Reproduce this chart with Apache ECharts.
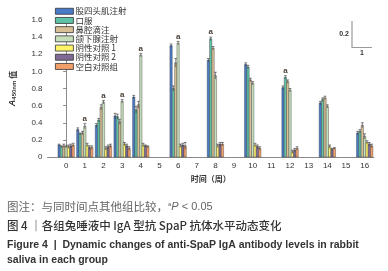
<!DOCTYPE html>
<html>
<head>
<meta charset="utf-8">
<script src="https://cdn.jsdelivr.net/npm/echarts@6/dist/echarts.min.js"></script>
<style>
  html, body { margin: 0; padding: 0; background: #fff; }
  #chart { width: 388px; height: 271px; }
</style>
</head>
<body>
<div id="chart"></div>
<script>
// 时间点（周）
var weeks = [0, 1, 2, 3, 4, 6, 8, 10, 12, 14, 16];
var groupNames = ['股四头肌注射', '口服', '鼻腔滴注', '颌下腺注射', '阴性对照 1', '阴性对照 2', '空白对照组'];
var groupColors = ['#4a7bc8', '#5fc2a6', '#d8bf96', '#c6dfba', '#fff36a', '#7e6a94', '#f2a06a'];

// A450nm 均值
var quadriceps = [0.14, 0.32, 0.37, 0.48, 0.70, 1.30, 1.13, 1.08, 0.81, 0.63, 0.28];
var oral       = [0.12, 0.27, 0.43, 0.47, 0.55, 0.80, 1.38, 1.05, 0.93, 0.67, 0.30];
var nasal      = [0.13, 0.28, 0.58, 0.41, 0.61, 1.10, 1.27, 0.90, 0.88, 0.69, 0.37];
var submand    = [0.12, 0.36, 0.64, 0.65, 1.19, 1.33, 0.95, 0.86, 0.78, 0.59, 0.24];
var neg1       = [0.12, 0.14, 0.10, 0.15, 0.14, 0.13, 0.13, 0.14, 0.06, 0.12, 0.17];
var neg2       = [0.13, 0.11, 0.12, 0.13, 0.13, 0.14, 0.15, 0.12, 0.08, 0.09, 0.15];
var blank      = [0.14, 0.11, 0.13, 0.10, 0.12, 0.13, 0.15, 0.10, 0.10, 0.10, 0.13];

// 误差（SD）
var quadricepsErr = [0.01, 0.02, 0.02, 0.03, 0.02, 0.02, 0.02, 0.02, 0.02, 0.02, 0.02];
var oralErr       = [0.01, 0.01, 0.02, 0.03, 0.04, 0.03, 0.02, 0.02, 0.02, 0.02, 0.02];
var nasalErr      = [0.02, 0.02, 0.03, 0.03, 0.04, 0.05, 0.02, 0.02, 0.02, 0.02, 0.03];
var submandErr    = [0.01, 0.03, 0.02, 0.02, 0.02, 0.02, 0.04, 0.02, 0.02, 0.02, 0.03];
var neg1Err       = [0.02, 0.02, 0.02, 0.02, 0.02, 0.02, 0.02, 0.02, 0.02, 0.02, 0.02];
var neg2Err       = [0.02, 0.02, 0.02, 0.02, 0.01, 0.02, 0.02, 0.02, 0.02, 0.01, 0.02];
var blankErr      = [0.02, 0.02, 0.02, 0.02, 0.01, 0.04, 0.02, 0.02, 0.02, 0.01, 0.02];

// 显著性标记 a：组序号 -> 周
var submandSig = [1, 2, 3, 4, 6];
var oralSig = [8, 12];

var yTicks = [0, 0.2, 0.4, 0.6, 0.8, 1.0, 1.2, 1.4, 1.6];

var values = [quadriceps, oral, nasal, submand, neg1, neg2, blank];
var errors = [quadricepsErr, oralErr, nasalErr, submandErr, neg1Err, neg2Err, blankErr];
var sigs = [[], oralSig, [], submandSig, [], [], []];

var myChart = echarts.init(document.getElementById('chart'));

function makeRender(k) {
  return function (params, api) {
    var x = api.value(0), y = api.value(1), e = api.value(2), sig = api.value(3);
    var unit = api.size([1, 0])[0];
    var bw = unit * 0.88 / 7;
    var base = api.coord([x, 0]);
    var top = api.coord([x, y]);
    var hi = api.coord([x, y + e]);
    var lo = api.coord([x, y - e]);
    var left = base[0] - bw * 3.5 + k * bw;
    var cx = left + bw / 2;
    var kids = [
      { type: 'rect', shape: { x: left, y: top[1], width: bw, height: base[1] - top[1] },
        style: { fill: groupColors[k], stroke: '#3a3a3a', lineWidth: 0.4 } },
      { type: 'line', shape: { x1: cx, y1: hi[1], x2: cx, y2: lo[1] },
        style: { stroke: '#333', lineWidth: 0.6 } },
      { type: 'line', shape: { x1: cx - 1.4, y1: hi[1], x2: cx + 1.4, y2: hi[1] },
        style: { stroke: '#333', lineWidth: 0.6 } }
    ];
    if (sig) {
      kids.push({ type: 'text', x: cx, y: hi[1] - 1,
        style: { text: 'a', fill: '#4a4038', font: 'bold 8px "Liberation Sans"',
          align: 'center', verticalAlign: 'bottom' } });
    }
    return { type: 'group', children: kids };
  };
}

var series = [];
for (var k = 0; k < 7; k++) {
  var data = [];
  for (var i = 0; i < weeks.length; i++) {
    data.push([weeks[i], values[k][i], errors[k][i], sigs[k].indexOf(weeks[i]) >= 0 ? 1 : 0]);
  }
  series.push({
    name: groupNames[k],
    type: 'custom',
    renderItem: makeRender(k),
    itemStyle: { color: groupColors[k] },
    encode: { x: 0, y: 1 },
    data: data
  });
}

var option = {
  animation: false,
  backgroundColor: '#fff',
  legend: {
    left: 50, top: 2,
    orient: 'vertical',
    icon: 'rect',
    itemWidth: 18, itemHeight: 6, itemGap: 0.7,
    itemStyle: { borderColor: '#333', borderWidth: 0.8 },
    textStyle: { fontSize: 8.5, lineHeight: 8, color: '#333', fontFamily: 'Noto Sans CJK SC', padding: [0, 0, 0, -3] },
    data: groupNames
  },
  grid: { left: 46, right: 14, top: 20, bottom: 114 },
  xAxis: {
    type: 'value', min: -1, max: 16.5, interval: 1,
    name: '时间（周）', nameLocation: 'middle', nameGap: 17,
    nameTextStyle: { fontSize: 8, fontWeight: 'bold', color: '#333', fontFamily: 'Noto Sans CJK SC' },
    axisLine: { lineStyle: { color: '#8a8a8a', width: 1 } },
    axisTick: { show: false },
    splitLine: { show: false },
    axisLabel: {
      fontSize: 8, color: '#333', margin: 5, fontFamily: 'Liberation Sans',
      formatter: function (v) { return v < 0 ? '' : String(v); }
    }
  },
  yAxis: {
    type: 'value', min: 0, max: 1.6, interval: 0.2,
    name: '{i|A}{s|450nm}{n| 值}', nameLocation: 'middle', nameGap: 30,
    nameTextStyle: {
      rich: {
        i: { fontSize: 9, fontWeight: 'bold', fontStyle: 'italic', color: '#333', fontFamily: 'Liberation Sans' },
        s: { fontSize: 6, fontWeight: 'bold', color: '#333', fontFamily: 'Liberation Sans', verticalAlign: 'bottom', padding: [4, 0, 0, 0] },
        n: { fontSize: 8, fontWeight: 'bold', color: '#333', fontFamily: 'Noto Sans CJK SC' }
      }
    },
    axisLine: { show: true, lineStyle: { color: '#8a8a8a', width: 1 } },
    axisTick: { show: true, length: 3, lineStyle: { color: '#8a8a8a' } },
    splitLine: { show: false },
    axisLabel: {
      fontSize: 8, color: '#333', margin: 5, fontFamily: 'Liberation Sans',
      formatter: function (v) { return v === 0 ? '0' : v.toFixed(1); }
    }
  },
  graphic: [
    // 比例尺
    { type: 'polyline', shape: { points: [[352, 21], [352, 47.5], [372, 47.5]] },
      style: { stroke: '#9a9a9a', lineWidth: 1.2, fill: null } },
    { type: 'text', x: 344, y: 34, style: { text: '0.2', font: 'bold 7px "Liberation Sans"', fill: '#333', align: 'center', verticalAlign: 'middle' } },
    { type: 'text', x: 362, y: 53, style: { text: '1', font: 'bold 7px "Liberation Sans"', fill: '#333', align: 'center', verticalAlign: 'middle' } },
    // 图注
    { type: 'text', x: 7, y: 207,
      style: { verticalAlign: 'middle', rich: {
        c: { fontSize: 11.5, fill: '#666', fontFamily: 'Noto Sans CJK SC' },
        sup: { fontSize: 6, fill: '#666', fontFamily: 'Liberation Sans', verticalAlign: 'top', padding: [0, 0, 6, 0] },
        p: { fontSize: 11, fill: '#666', fontStyle: 'italic', fontFamily: 'Liberation Sans' },
        t: { fontSize: 11, fill: '#666', fontFamily: 'Liberation Sans' }
      }, text: '{c|图注：与同时间点其他组比较，}{sup|a}{p|P}{t| < 0.05}' } },
    { type: 'text', x: 7, y: 226,
      style: { verticalAlign: 'middle', text: '图 4 ｜各组兔唾液中 IgA 型抗 SpaP 抗体水平动态变化', fill: '#333', font: '500 11.5px "Noto Sans CJK SC"' } },
    { type: 'text', x: 7, y: 245,
      style: { verticalAlign: 'middle', text: 'Figure 4  |  Dynamic changes of anti-SpaP IgA antibody levels in rabbit', fill: '#333', font: 'bold 10.5px "Liberation Sans"' } },
    { type: 'text', x: 7, y: 260,
      style: { verticalAlign: 'middle', text: 'saliva in each group', fill: '#333', font: 'bold 10.5px "Liberation Sans"' } }
  ],
  series: series
};

myChart.setOption(option);
</script>
</body>
</html>
